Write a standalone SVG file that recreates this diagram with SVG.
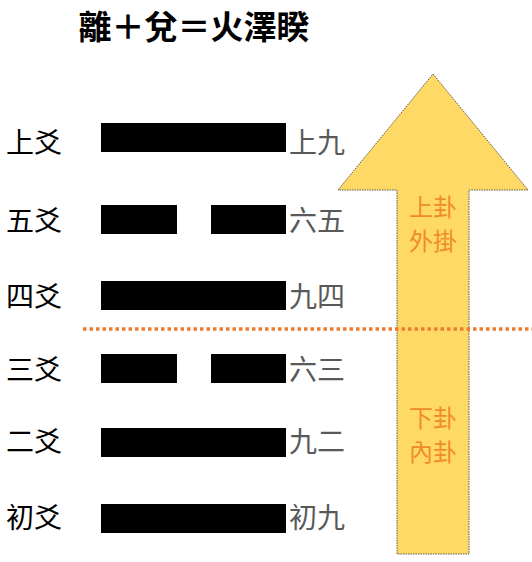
<svg xmlns="http://www.w3.org/2000/svg" width="532" height="562" viewBox="0 0 532 562">
<style>
.t{font-family:"Noto Sans CJK TC","Noto Sans CJK SC",sans-serif}
.lbl{font-size:28px;fill:#000}
.yao{font-size:28px;fill:#595959}
.bar{fill:#000}
.gua{font-size:24px;fill:#F08C28}
</style>
<rect width="532" height="562" fill="#fff"/>
<text class="t" x="194" y="39" text-anchor="middle" font-size="33" font-weight="bold">離＋兌＝火澤睽</text>
<g id="arrow">
<path d="M433,74 L528,190 L469,190 L469,554 L397,554 L397,190 L338,190 Z" fill="#FFD966" stroke="#333" stroke-width="0.8" stroke-dasharray="1.5,1"/>
<text class="t gua" x="433" y="216" text-anchor="middle">上卦</text>
<text class="t gua" x="433" y="250" text-anchor="middle">外掛</text>
<text class="t gua" x="433" y="427" text-anchor="middle">下卦</text>
<text class="t gua" x="433" y="461" text-anchor="middle">內卦</text>
</g>
<g id="divider">
<line x1="83" y1="329" x2="532" y2="329" stroke="#ED7D31" stroke-width="3.5" stroke-dasharray="3.5,3"/>
</g>
<g id="line6">
<text class="t lbl" x="6" y="153">上爻</text>
<rect class="bar" x="101" y="123" width="185" height="29"/>
<text class="t yao" x="289" y="153">上九</text>
</g>
<g id="line5">
<text class="t lbl" x="6" y="231">五爻</text>
<rect class="bar" x="101" y="205" width="76" height="29"/>
<rect class="bar" x="211" y="205" width="75" height="29"/>
<text class="t yao" x="289" y="231">六五</text>
</g>
<g id="line4">
<text class="t lbl" x="6" y="307">四爻</text>
<rect class="bar" x="101" y="281" width="185" height="29"/>
<text class="t yao" x="289" y="307">九四</text>
</g>
<g id="line3">
<text class="t lbl" x="6" y="380">三爻</text>
<rect class="bar" x="101" y="354" width="76" height="29"/>
<rect class="bar" x="211" y="354" width="75" height="29"/>
<text class="t yao" x="289" y="380">六三</text>
</g>
<g id="line2">
<text class="t lbl" x="6" y="452">二爻</text>
<rect class="bar" x="101" y="428" width="185" height="29"/>
<text class="t yao" x="289" y="452">九二</text>
</g>
<g id="line1">
<text class="t lbl" x="6" y="528">初爻</text>
<rect class="bar" x="101" y="504" width="185" height="29"/>
<text class="t yao" x="289" y="528">初九</text>
</g>
</svg>
